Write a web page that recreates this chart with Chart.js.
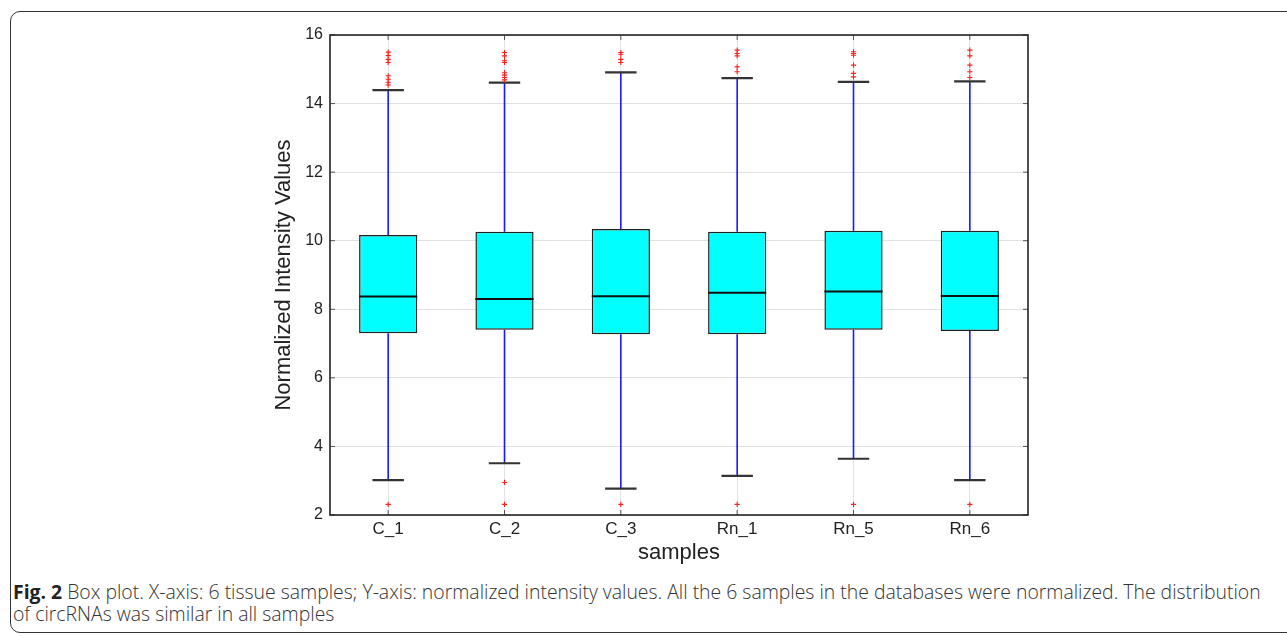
<!DOCTYPE html>
<html>
<head>
<meta charset="utf-8">
<script src="https://cdn.jsdelivr.net/npm/chart.js@4.4.0/dist/chart.umd.min.js"></script>
<style>
  html, body { margin: 0; padding: 0; background: #fff; width: 1287px; height: 636px; overflow: hidden; }
  #frame { position: absolute; left: 10px; top: 11px; width: 1320px; height: 622px; border: 1.5px solid #333; border-radius: 10px; box-sizing: border-box; }
  #wrap { position: absolute; left: 0; top: 0; width: 1287px; height: 566px; }
  #caption { position: absolute; left: 13px; top: 581px; width: 1268px; font-family: "Open Sans", sans-serif; font-weight: 300; font-size: 19.4px; line-height: 22px; color: #333; white-space: nowrap; }
  #caption b { font-weight: 700; color: #222; }
</style>
</head>
<body>
<div id="frame"></div>
<div id="wrap"><canvas id="c" width="1287" height="566"></canvas></div>
<div id="caption"><b>Fig. 2</b> Box plot. X-axis: 6 tissue samples; Y-axis: normalized intensity values. All the 6 samples in the databases were normalized. The distribution<br>of circRNAs was similar in all samples</div>
<script>
const categories = ['C_1', 'C_2', 'C_3', 'Rn_1', 'Rn_5', 'Rn_6'];
const q1 = [7.30, 7.40, 7.27, 7.27, 7.40, 7.37];
const median = [8.37, 8.30, 8.38, 8.48, 8.52, 8.39];
const q3 = [10.17, 10.26, 10.34, 10.26, 10.29, 10.29];
const whiskerLow = [3.02, 3.51, 2.77, 3.14, 3.64, 3.02];
const whiskerHigh = [14.39, 14.61, 14.91, 14.74, 14.63, 14.65];
const outliers = [
  [15.50, 15.40, 15.29, 15.20, 14.81, 14.71, 14.62, 14.54, 2.31],
  [15.49, 15.39, 15.25, 15.20, 14.90, 14.83, 14.76, 14.69, 2.95, 2.31],
  [15.49, 15.44, 15.29, 15.20, 2.31],
  [15.56, 15.46, 15.39, 15.07, 14.93, 2.31],
  [15.51, 15.46, 15.41, 15.12, 14.88, 14.78, 2.31],
  [15.56, 15.39, 15.12, 14.93, 14.76, 2.31]
];
const yTicks = [2, 4, 6, 8, 10, 12, 14, 16];

const boxData = categories.map((c, i) => [q1[i], q3[i]]);
const outlierData = [];
categories.forEach((c, i) => outliers[i].forEach(v => outlierData.push({ x: c, y: v })));

const boxPlugin = {
  id: 'boxParts',
  beforeDatasetsDraw(chart) {
    const ctx = chart.ctx, y = chart.scales.y;
    const meta = chart.getDatasetMeta(0);
    ctx.save();
    meta.data.forEach((bar, i) => {
      const x = bar.x, capW = bar.width * 0.54;
      ctx.strokeStyle = '#1a1aff';
      ctx.lineWidth = 1.6;
      ctx.beginPath();
      ctx.moveTo(x, y.getPixelForValue(q3[i])); ctx.lineTo(x, y.getPixelForValue(whiskerHigh[i]));
      ctx.moveTo(x, y.getPixelForValue(q1[i])); ctx.lineTo(x, y.getPixelForValue(whiskerLow[i]));
      ctx.stroke();
      ctx.strokeStyle = '#333';
      ctx.lineWidth = 2.2;
      ctx.beginPath();
      [whiskerHigh[i], whiskerLow[i]].forEach(v => {
        const py = y.getPixelForValue(v);
        ctx.moveTo(x - capW / 2, py); ctx.lineTo(x + capW / 2, py);
      });
      ctx.stroke();
    });
    ctx.restore();
  },
  afterDatasetDraw(chart, args) {
    if (args.index !== 0) return;
    const ctx = chart.ctx, y = chart.scales.y;
    ctx.save();
    ctx.strokeStyle = '#111';
    ctx.lineWidth = 2;
    args.meta.data.forEach((bar, i) => {
      const py = y.getPixelForValue(median[i]);
      ctx.beginPath();
      ctx.moveTo(bar.x - bar.width / 2, py); ctx.lineTo(bar.x + bar.width / 2, py);
      ctx.stroke();
    });
    ctx.restore();
  },
  afterDraw(chart) {
    const ctx = chart.ctx, a = chart.chartArea, x = chart.scales.x, y = chart.scales.y;
    ctx.save();
    ctx.strokeStyle = '#555';
    ctx.lineWidth = 1;
    ctx.beginPath();
    categories.forEach((c, i) => {
      const px = x.getPixelForValue(i);
      ctx.moveTo(px, a.top); ctx.lineTo(px, a.top + 5);
      ctx.moveTo(px, a.bottom); ctx.lineTo(px, a.bottom - 5);
    });
    yTicks.forEach(v => {
      const py = y.getPixelForValue(v);
      ctx.moveTo(a.right, py); ctx.lineTo(a.right - 5, py);
      ctx.moveTo(a.left, py); ctx.lineTo(a.left + 5, py);
    });
    ctx.stroke();
    ctx.strokeStyle = '#222';
    ctx.lineWidth = 1.6;
    ctx.strokeRect(a.left, a.top, a.right - a.left, a.bottom - a.top);
    ctx.restore();
  }
};

new Chart(document.getElementById('c'), {
  type: 'bar',
  data: {
    labels: categories,
    datasets: [
      {
        type: 'bar',
        data: boxData,
        backgroundColor: '#00ffff',
        borderColor: '#222',
        borderWidth: 1.5,
        borderSkipped: false,
        categoryPercentage: 1,
        barPercentage: 0.5,
        order: 2
      },
      {
        type: 'scatter',
        data: outlierData,
        pointStyle: 'crossRot',
        rotation: 45,
        pointRadius: 2.6,
        borderColor: '#ff2020',
        borderWidth: 1.1,
        backgroundColor: '#ff2020',
        order: 1
      }
    ]
  },
  options: {
    responsive: false,
    animation: false,
    events: [],
    layout: { padding: { left: 271, right: 259, top: 35, bottom: 0 } },
    plugins: { legend: { display: false }, tooltip: { enabled: false } },
    scales: {
      x: {
        type: 'category',
        offset: true,
        grid: { offset: false, color: '#e2e2e2', lineWidth: 1, drawTicks: false },
        border: { display: false },
        ticks: { padding: 4, color: '#222', font: { family: 'Liberation Sans, Arial', size: 17 } },
        title: { display: true, text: 'samples', color: '#222', padding: 0, font: { family: 'Liberation Sans, Arial', size: 22 } },
        afterFit(s) { s.height = 51; }
      },
      y: {
        min: 2, max: 16,
        afterBuildTicks(s) { s.ticks = yTicks.map(v => ({ value: v })); },
        grid: { color: '#e2e2e2', lineWidth: 1, drawTicks: false },
        border: { display: false },
        ticks: { padding: 7, color: '#222', font: { family: 'Liberation Sans, Arial', size: 16 } },
        title: { display: true, text: 'Normalized Intensity Values', color: '#222', padding: 0, font: { family: 'Liberation Sans, Arial', size: 22 } },
        afterFit(s) { s.width = 59; }
      }
    }
  },
  plugins: [boxPlugin]
});
</script>
</body>
</html>
